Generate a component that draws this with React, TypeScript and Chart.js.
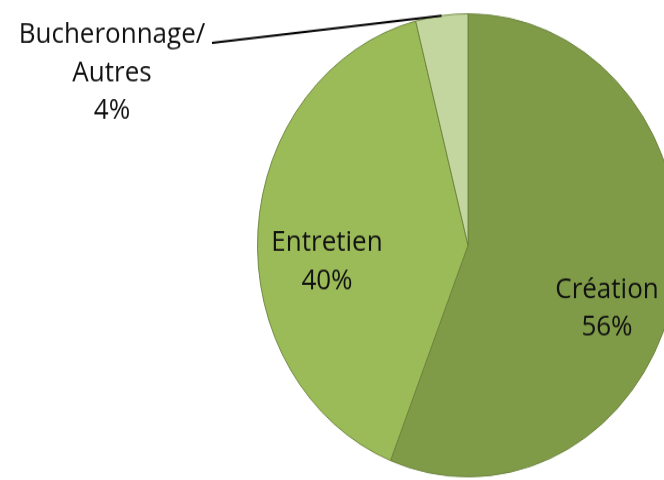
import React, { useEffect, useRef } from "react";
import { Chart, registerables } from "chart.js";

Chart.register(...registerables);

const categories = ["Création", "Entretien", "Bucheronnage/Autres"];
const labelLines = [["Création", "56%"], ["Entretien", "40%"], ["Bucheronnage/", "Autres", "4%"]];
const values = [56, 40, 4];
const colors = ["#7F9B48", "#9BBB59", "#C4D6A0"];

const SY = 1.1;

const labelPlugin = {
  id: "pieLabels",
  afterDatasetsDraw(chart: any) {
    const ctx = chart.ctx;
    const meta = chart.getDatasetMeta(0);
    const a0 = meta.data[0];
    const cx = a0.x;
    const cy = a0.y;
    ctx.save();
    ctx.fillStyle = "#111";
    ctx.font = "26px 'Open Sans', Lato, sans-serif";
    ctx.textAlign = "center";
    ctx.textBaseline = "middle";
    const lh = 38 / SY;
    const pos = [
      [cx + 139, cy + 57.7],
      [cx - 141, cy + 15],
      [112, 73 / SY],
    ];
    labelLines.forEach((lines, i) => {
      const [x, y] = pos[i];
      const n = lines.length;
      lines.forEach((t, j) => {
        ctx.fillText(t, x, y + (j - (n - 1) / 2) * lh);
      });
    });
    const arc = meta.data[2];
    const mid = (arc.startAngle + arc.endAngle) / 2;
    const ex = arc.x + arc.outerRadius * Math.cos(mid);
    const ey = arc.y + arc.outerRadius * Math.sin(mid);
    ctx.beginPath();
    ctx.strokeStyle = "#000";
    ctx.lineWidth = 2;
    ctx.moveTo(212, 43 / SY);
    ctx.lineTo(ex, ey);
    ctx.stroke();
    ctx.restore();
  },
};

export default function App() {
  const ref = useRef<HTMLCanvasElement>(null);
  useEffect(() => {
    const chart = new Chart(ref.current!, {
      type: "pie",
      data: {
        labels: categories,
        datasets: [
          {
            data: values,
            backgroundColor: colors,
            borderColor: "rgba(105,130,58,0.9)",
            borderWidth: 1,
          },
        ],
      },
      options: {
        responsive: false,
        animation: false,
        devicePixelRatio: 1,
        layout: { padding: { left: 257, right: 21, top: 12, bottom: 6 } },
        plugins: { legend: { display: false }, tooltip: { enabled: false } },
      },
      plugins: [labelPlugin],
    });
    return () => chart.destroy();
  }, []);
  return (
    <div style={{ position: "fixed", left: 0, top: 0, width: 664, height: 480, overflow: "hidden", background: "#fff" }}>
      <div style={{ width: 700, height: 440, transform: `scaleY(${SY})`, transformOrigin: "0 0" }}>
        <canvas ref={ref} width={700} height={440} style={{ width: 700, height: 440, display: "block" }} />
      </div>
    </div>
  );
}
